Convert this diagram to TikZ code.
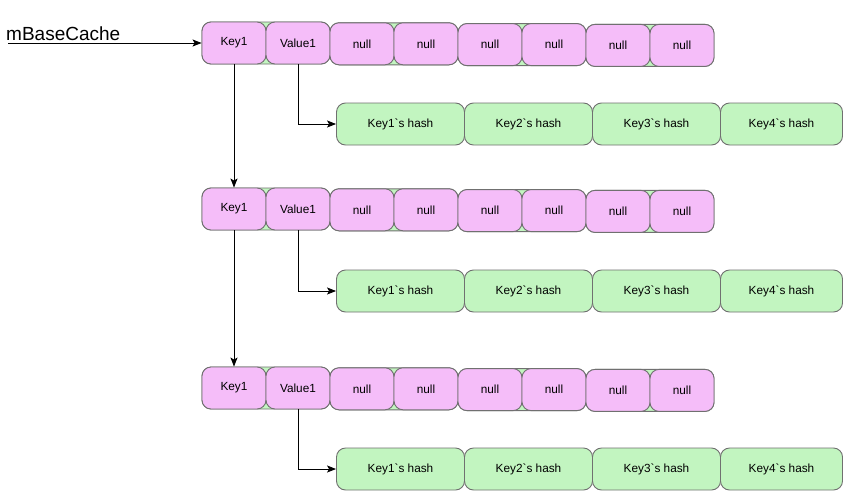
\documentclass[tikz,border=0pt]{standalone}
\usepackage{fontspec}
\newfontfamily\lsans{Liberation Sans}
\usetikzlibrary{arrows.meta}
\definecolor{cpink}{HTML}{F5BDF9}
\definecolor{cgreen}{HTML}{C2F5C0}
\definecolor{cstroke}{HTML}{707070}
\tikzset{
  cell/.style={draw=cstroke, line width=0.9pt, fill=cpink, rounded corners=9pt,
    minimum width=64pt, minimum height=42pt, inner sep=0pt, font=\lsans\fontsize{11.8}{13}\selectfont},
  pairbg/.style={draw=cstroke, line width=0.9pt, fill=cgreen, rounded corners=9pt},
  hashcell/.style={draw=cstroke, line width=0.9pt, fill=cgreen, rounded corners=9pt,
    minimum width=128pt, minimum height=42pt, inner sep=0pt, font=\lsans\fontsize{11.8}{13}\selectfont},
  conn/.style={line width=0.9pt, -{Stealth[length=9pt,width=7pt,inset=2pt]}},
}
\begin{document}
\begin{tikzpicture}[x=1pt,y=-1pt]
\useasboundingbox (0,0) rectangle (845,490);
\fill[white] (0,0) rectangle (845,490);
% rows: top of pink row, center of hash row
\foreach \r/\top/\hy in {1/22/124, 2/188/291, 3/367/469} {
  % green backgrounds of pairs
  \foreach \k in {0,1,2,3} {
    \pgfmathsetmacro{\dy}{0.8*\k}
    \draw[pairbg] ({202+128*\k},{\top+\dy}) rectangle ({330+128*\k},{\top+\dy+42});
  }
  \node[cell] (k\r) at (234,{\top+21}) {Key1};
  \node[cell] (v\r) at (298,{\top+21}) {Value1};
  \node[cell] (n\r a) at (362,{\top+21.8}) {null};
  \node[cell] (n\r b) at (426,{\top+21.8}) {null};
  \node[cell] (n\r c) at (490,{\top+22.6}) {null};
  \node[cell] (n\r d) at (554,{\top+22.6}) {null};
  \node[cell] (n\r e) at (618,{\top+23.4}) {null};
  \node[cell] (n\r f) at (682,{\top+23.4}) {null};
  \node[hashcell] (h\r a) at (400.5,\hy) {Key1`s hash};
  \node[hashcell] (h\r b) at (528.5,\hy) {Key2`s hash};
  \node[hashcell] (h\r c) at (656.5,\hy) {Key3`s hash};
  \node[hashcell, minimum width=122pt] (h\r d) at (781.5,\hy) {Key4`s hash};
  \draw[conn] (v\r.south) |- (h\r a.west);
}
\node[anchor=base west, inner sep=0pt, font=\lsans\fontsize{19}{22}\selectfont] (mb) at (6,40) {mBaseCache};
\coordinate (mbstart) at (8,43);
\draw[conn] (mbstart) -- (k1.west);
\draw[conn] (k1.south) -- (k2.north);
\draw[conn] (k2.south) -- (k3.north);
\end{tikzpicture}
\end{document}
